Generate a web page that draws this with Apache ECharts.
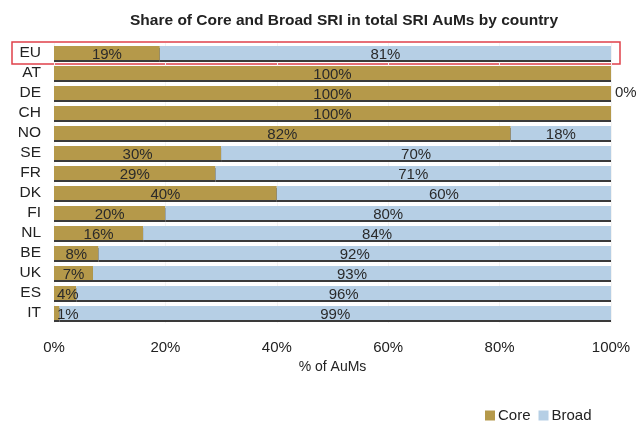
<!DOCTYPE html>
<html lang="en">
<head>
    <meta charset="UTF-8">
    <title>SRI AuMs</title>
    <style>
        html, body { margin: 0; padding: 0; background: #fff; }
    </style>
</head>
<body>
    <div id="main" style="height:421px; width: 644px;"></div>
    <script src="https://cdn.jsdelivr.net/npm/echarts@6/dist/echarts.min.js"></script>
    <script>
        var countries = ['EU', 'AT', 'DE', 'CH', 'NO', 'SE', 'FR', 'DK', 'FI', 'NL', 'BE', 'UK', 'ES', 'IT'];
        var core = [19, 100, 100, 100, 82, 30, 29, 40, 20, 16, 8, 7, 4, 1];
        var broad = [81, 0, 0, 0, 18, 70, 71, 60, 80, 84, 92, 93, 96, 99];
        var xTicks = [0, 20, 40, 60, 80, 100];

        var barShadow = {
            shadowColor: '#3a3a3a',
            shadowBlur: 0,
            shadowOffsetY: 2
        };

        var myChart = echarts.init(document.getElementById('main'));
        var option = {
            animation: false,
            textStyle: { fontFamily: 'Liberation Sans, Arial, sans-serif' },
            title: {
                text: 'Share of Core and Broad SRI in total SRI AuMs by country',
                left: 339,
                textAlign: 'center',
                top: 8,
                textStyle: { fontSize: 15.5, fontWeight: 'bold', color: '#222' }
            },
            legend: {
                left: 480,
                top: 403,
                itemWidth: 10,
                itemHeight: 10,
                itemGap: 8,
                icon: 'rect',
                textStyle: { fontSize: 15, color: '#222', padding: [0, 0, 0, -2] },
                data: ['Core', 'Broad']
            },
            grid: { left: 54, right: 33, top: 43, bottom: 98 },
            xAxis: {
                type: 'value',
                min: xTicks[0],
                max: xTicks[xTicks.length - 1],
                interval: 20,
                name: '% of AuMs',
                nameLocation: 'middle',
                nameGap: 36,
                nameTextStyle: { fontSize: 14, color: '#222' },
                axisLine: { show: false },
                axisTick: { show: false },
                axisLabel: { formatter: '{value}%', fontSize: 15, color: '#222', margin: 17 },
                splitLine: { lineStyle: { color: '#f3f3f3' } }
            },
            yAxis: {
                type: 'category',
                inverse: true,
                data: countries,
                axisLine: { show: false },
                axisTick: { show: false },
                axisLabel: { interval: 0, fontSize: 15.5, lineHeight: 16, color: '#222', margin: 13 }
            },
            series: [
                {
                    name: 'Core',
                    type: 'bar',
                    stack: 'total',
                    barWidth: 14,
                    data: core.map(function (v) {
                        if (v < 5) {
                            return { value: v, label: { position: 'insideLeft', distance: 3 } };
                        }
                        return v;
                    }),
                    itemStyle: Object.assign({ color: '#b5994a' }, barShadow),
                    label: {
                        show: true,
                        position: 'inside',
                        offset: [0, 2],
                        formatter: '{c}%',
                        fontSize: 15,
                        color: '#2a2a2a'
                    }
                },
                {
                    name: 'Broad',
                    type: 'bar',
                    stack: 'total',
                    barWidth: 14,
                    data: broad.map(function (v, i) {
                        if (v === 0 && countries[i] === 'DE') {
                            return { value: v, label: { show: true, position: 'right', offset: [0, 0], distance: 4 } };
                        }
                        if (v === 0) {
                            return { value: v, label: { show: false } };
                        }
                        return v;
                    }),
                    itemStyle: Object.assign({ color: '#b6cfe5' }, barShadow),
                    label: {
                        show: true,
                        position: 'inside',
                        offset: [0, 2],
                        formatter: '{c}%',
                        fontSize: 15,
                        color: '#2a2a2a'
                    }
                }
            ],
            graphic: [
                {
                    type: 'rect',
                    shape: { x: 12, y: 42, width: 608, height: 22 },
                    style: { fill: 'none', stroke: '#e0404a', lineWidth: 1.5 }
                }
            ]
        };
        myChart.setOption(option);
    </script>
</body>
</html>
